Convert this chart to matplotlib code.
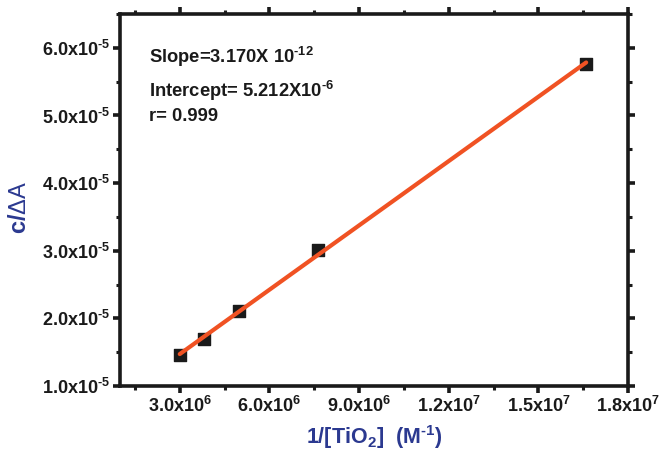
import matplotlib
matplotlib.use("Agg")
import matplotlib.pyplot as plt
import numpy as np
from matplotlib.ticker import FixedLocator, MultipleLocator

plt.rcParams['font.family'] = ['Liberation Sans', 'DejaVu Sans']
plt.rcParams['mathtext.fontset'] = 'custom'
plt.rcParams['mathtext.rm'] = 'Liberation Sans:bold'
plt.rcParams['mathtext.bf'] = 'Liberation Sans:bold'
plt.rcParams['mathtext.it'] = 'Liberation Sans:bold'
plt.rcParams['mathtext.sf'] = 'Liberation Sans'
plt.rcParams['mathtext.default'] = 'rm'

# data
inv_tio2 = [3.0e6, 3.8e6, 4.97e6, 7.63e6, 1.66e7]
c_dA = [1.457e-5, 1.69e-5, 2.106e-5, 3.016e-5, 5.76e-5]
slope = 3.170e-12
intercept = 5.212e-6
x_ticks = [3.0e6, 6.0e6, 9.0e6, 1.2e7, 1.5e7, 1.8e7]
x_labels = ["3.0x10$^{6}$", "6.0x10$^{6}$", "9.0x10$^{6}$", "1.2x10$^{7}$", "1.5x10$^{7}$", "1.8x10$^{7}$"]
y_ticks = [1.0e-5, 2.0e-5, 3.0e-5, 4.0e-5, 5.0e-5, 6.0e-5]
y_labels = ["1.0x10$^{\\text{-}5}$", "2.0x10$^{\\text{-}5}$", "3.0x10$^{\\text{-}5}$",
            "4.0x10$^{\\text{-}5}$", "5.0x10$^{\\text{-}5}$", "6.0x10$^{\\text{-}5}$"]

fig = plt.figure(figsize=(6.59, 4.57), dpi=100)
ax = fig.add_axes([120/659, 1-386/457, (628-120)/659, (386-14)/457])

xs = np.array([inv_tio2[0], inv_tio2[-1]])
ax.plot(xs, slope*xs + intercept, color='#f05223', lw=3, solid_capstyle='round', zorder=3)
ax.scatter(inv_tio2, c_dA, marker='s', s=75, color='#1a1a1a', zorder=2)

ax.set_xlim(1.0e6, 1.8e7)
ax.set_ylim(1.0e-5, 6.5e-5)
ax.xaxis.set_major_locator(FixedLocator(x_ticks))
ax.set_xticklabels(x_labels)
ax.xaxis.set_minor_locator(MultipleLocator(1.5e6))
ax.yaxis.set_major_locator(FixedLocator(y_ticks))
ax.set_yticklabels(y_labels)
ax.yaxis.set_minor_locator(MultipleLocator(0.5e-5))

for s in ax.spines.values():
    s.set_linewidth(2.6)
    s.set_color('#1a1a1a')
ax.tick_params(which='major', direction='out', length=5, width=2.6, labelsize=13,
               colors='#1a1a1a', top=True, right=True, pad=2)
ax.tick_params(which='minor', direction='out', length=3, width=2.2, colors='#1a1a1a',
               top=True, right=True)
for lab in ax.get_xticklabels() + ax.get_yticklabels():
    lab.set_fontweight('bold')
    lab.set_color('#1a1a1a')

ax.text(0.058, 0.868, "Slope=3.170X 10$^{\\text{-}12}$", transform=ax.transAxes, fontsize=13.2,
        fontweight='bold', color='#1a1a1a')
ax.text(0.058, 0.776, "Intercept= 5.212X10$^{\\text{-}6}$", transform=ax.transAxes, fontsize=13.2,
        fontweight='bold', color='#1a1a1a')
ax.text(0.058, 0.713, "r= 0.999", transform=ax.transAxes, fontsize=13.2,
        fontweight='bold', color='#1a1a1a')

blue = '#2b3990'
fig.text(374/659, 1-437/457, "1/[TiO$_{2}$]  (M$^{\\text{-}1}$)", ha='center', va='center',
         fontsize=15.5, fontweight='bold', color=blue)
fig.text(20/659, 1-207/457, r"c/$\mathsf{\Delta A}$", ha='center', va='center', rotation=90,
         fontsize=17, fontweight='bold', color=blue)

fig.savefig("out.png", dpi=100)
